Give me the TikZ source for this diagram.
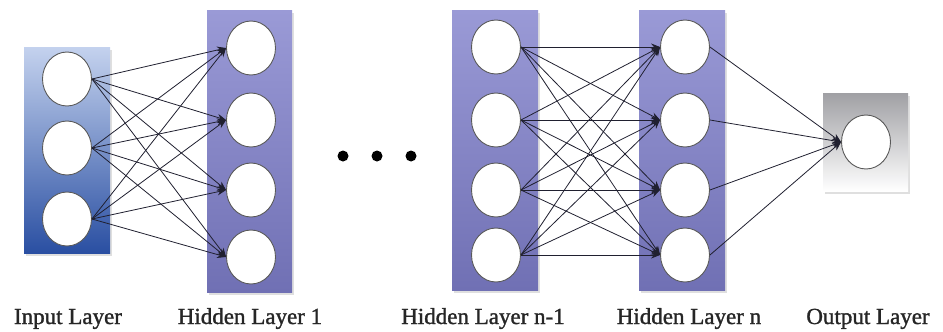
\documentclass[tikz,border=0pt]{standalone}
\usepackage{fontspec}
\setmainfont{Liberation Serif}
\newfontfamily\lblfont[FakeBold=1.3]{Liberation Serif}
\usetikzlibrary{shapes.geometric,arrows.meta,shadows}
\definecolor{inTop}{HTML}{C4D2EE}
\definecolor{inBot}{HTML}{2A4FA2}
\definecolor{hidTop}{HTML}{9A9AD6}
\definecolor{hidBot}{HTML}{7070B4}
\definecolor{outTop}{HTML}{A0A0A4}
\definecolor{edgecol}{HTML}{202030}
\tikzset{
  x=1pt, y=-1pt,
  neuron/.style={ellipse, draw=black!65, line width=0.9pt, fill=white,
    minimum width=49pt, minimum height=54pt, inner sep=0pt},
  layerbox/.style={inner sep=0pt, draw=none,
    drop shadow={opacity=0.25, shadow xshift=2pt, shadow yshift=-3pt}},
  inbox/.style={layerbox, top color=inTop, bottom color=inBot},
  hidbox/.style={layerbox, top color=hidTop, bottom color=hidBot},
  outbox/.style={layerbox, top color=outTop, bottom color=white},
  conn/.style={draw=edgecol, line width=0.8pt},
  arr/.style={conn, -{Stealth[length=9pt,width=7pt]}},
  dotnode/.style={circle, fill=black, inner sep=0pt, minimum size=11pt},
  lbl/.style={anchor=base, inner sep=0pt, text=black!85, font=\lblfont\fontsize{23}{27}\selectfont}
}
\begin{document}
\begin{tikzpicture}
\useasboundingbox (0,0) rectangle (943,332);
% layer boxes
\path[inbox] (24,47) rectangle (110,253);
\path[hidbox] (207,10) rectangle (292,292);
\path[hidbox] (452,10) rectangle (538,290);
\path[hidbox] (639,10) rectangle (725,290);
\path[outbox] (823,93) rectangle (908,191);
% input neurons
\node[neuron] (i1) at (67,79) {};
\node[neuron] (i2) at (67,148) {};
\node[neuron] (i3) at (67,219) {};
% hidden layer 1
\node[neuron] (a1) at (251,48) {};
\node[neuron] (a2) at (251,120) {};
\node[neuron] (a3) at (251,190) {};
\node[neuron] (a4) at (251,257) {};
% hidden layer n-1
\node[neuron] (b1) at (496,47) {};
\node[neuron] (b2) at (496,120) {};
\node[neuron] (b3) at (496,190) {};
\node[neuron] (b4) at (496,255) {};
% hidden layer n
\node[neuron] (c1) at (685,47) {};
\node[neuron] (c2) at (685,120) {};
\node[neuron] (c3) at (685,190) {};
\node[neuron] (c4) at (685,255) {};
% output
\node[neuron] (o) at (866,142) {};
% connections
\foreach \s in {1,2,3}{
  \foreach \t in {1,2,3,4}{
    \draw[arr] (i\s.east) -- (a\t.west);
  }
}
\foreach \s in {1,2,3,4}{
  \foreach \t in {1,2,3,4}{
    \draw[arr] (b\s.east) -- (c\t.west);
  }
}
\foreach \s in {1,2,3,4}{
  \draw[arr] (c\s.east) -- (o.west);
}
% dots
\node[dotnode] (d1) at (343,156) {};
\node[dotnode] (d2) at (377,156) {};
\node[dotnode] (d3) at (411,156) {};
% labels
\node[lbl] (l1) at (68,324) {Input Layer};
\node[lbl] (l2) at (250,324) {Hidden Layer 1};
\node[lbl] (l3) at (483,324) {Hidden Layer n-1};
\node[lbl] (l4) at (689,324) {Hidden Layer n};
\node[lbl] (l5) at (868,324) {Output Layer};
\end{tikzpicture}
\end{document}
